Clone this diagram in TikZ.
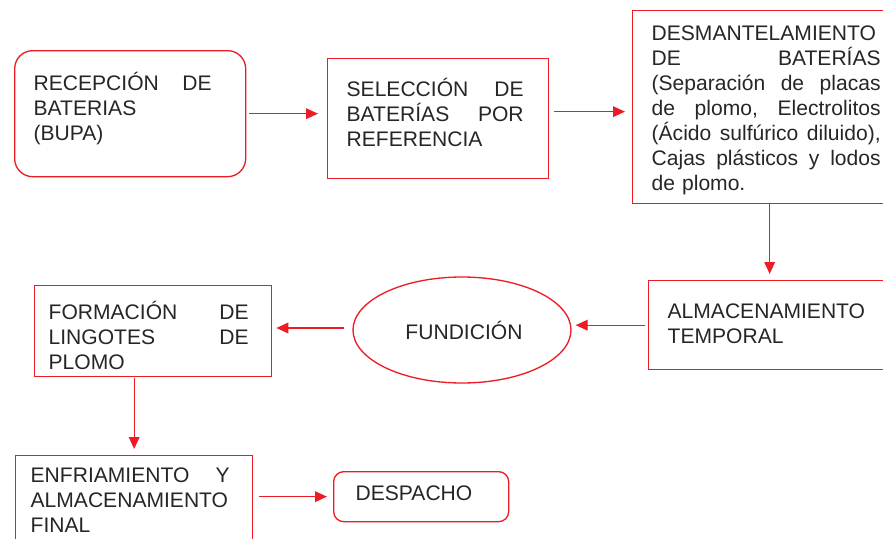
\documentclass[tikz,border=0pt]{standalone}
\usepackage{fontspec}
\setmainfont{Liberation Sans}
\usetikzlibrary{arrows.meta,shapes.geometric}
\definecolor{rojo}{RGB}{237,28,36}
\definecolor{texto}{RGB}{38,38,38}
\newcommand{\fuente}{\fontsize{15.8}{18.8}\selectfont}
\tikzset{
    caja/.style={draw=rojo, line width=1pt, anchor=north west, inner ysep=0pt,
                 text=texto, font=\fuente, align=left},
    elipse/.style={ellipse, draw=rojo, line width=1pt, inner sep=0pt,
                   text=texto, font=\fuente},
    flecha/.style={draw=rojo, line width=1pt, -{Triangle[length=9pt,width=8pt]}}
}
\begin{document}
\begin{tikzpicture}[x=0.75pt,y=-0.75pt]
        \useasboundingbox (0,0) rectangle (883,539);
        \clip (0,0) rectangle (883,539);
        %% first row
        \node[caja, rounded corners=13.5pt, inner xsep=14.25pt, text width=144.75pt,
              text height=29.6pt, text depth=64.9pt] (recep) at (14,50)
              {\rightskip=11.25pt RECEPCIÓN\hfill DE\\BATERIAS\\(BUPA)};
        \node[caja, inner xsep=14.25pt, text width=137.25pt,
              text height=28.5pt, text depth=61.5pt] (selec) at (327,58)
              {\rightskip=4.5pt SELECCIÓN\hfill DE\\BATERÍAS\hfill POR\\REFERENCIA};
        \node[caja, inner xsep=14.25pt, text width=171.75pt,
              text height=22.1pt, text depth=122.6pt] (desm) at (632,10)
              {DESMANTELAMIENTO\\DE\hfill BATERÍAS\\(Separación\hfill de\hfill placas\\
               de\hfill plomo,\hfill Electrolitos\\(Ácido\hfill sulfúrico\hfill diluido),\\
               Cajas\hfill plásticos\hfill y\hfill lodos\\de plomo.};
        %% second row
        \node[caja, inner xsep=14.25pt, text width=153pt,
              text height=28.5pt, text depth=38.25pt] (alm) at (648,280)
              {ALMACENAMIENTO\\TEMPORAL};
        \node[elipse, minimum width=163.5pt, minimum height=79.5pt] (fund) at (462,330)
              {\hspace*{3pt}FUNDICIÓN};
        \node[caja, inner xsep=10.5pt, text width=156.75pt,
              text height=25.5pt, text depth=42.75pt] (form) at (34,285)
              {\rightskip=6.75pt FORMACIÓN\hfill DE\\LINGOTES\hfill DE\\PLOMO};
        %% third row
        \node[caja, inner xsep=11.25pt, text width=155.25pt,
              text height=19.9pt, text depth=60pt] (enf) at (15,455)
              {\rightskip=6pt ENFRIAMIENTO\hfill Y\\ALMACENAMIENTO\\FINAL};
        \node[caja, rounded corners=7.5pt, inner xsep=16.5pt, text width=98.25pt,
              text height=21.75pt, text depth=15.75pt] (desp) at (333,471)
              {DESPACHO};
        %% arrows
        \draw[flecha, shorten <=2pt, shorten >=6.75pt] (recep.east) -- (recep.east -| selec.west);
        \draw[flecha, shorten <=3.75pt, shorten >=5.25pt] ([yshift=5.25pt]selec.east) -- ([yshift=5.25pt]selec.east -| desm.west);
        \draw[flecha, shorten >=4.5pt] (desm.south -| alm.north) -- (alm.north);
        \draw[flecha, shorten <=2.25pt, shorten >=3pt] (alm.west) -- (alm.west -| fund.east);
        \draw[flecha, shorten <=6pt, shorten >=3pt] ([yshift=1.5pt]fund.west) -- ([yshift=1.5pt]fund.west -| form.east);
        \draw[flecha, shorten <=0.75pt, shorten >=4.5pt] (form.south -| enf.north) -- (enf.north);
        \draw[flecha, shorten <=4.5pt, shorten >=4.5pt] (desp.west -| enf.east) -- (desp.west);
\end{tikzpicture}
\end{document}
